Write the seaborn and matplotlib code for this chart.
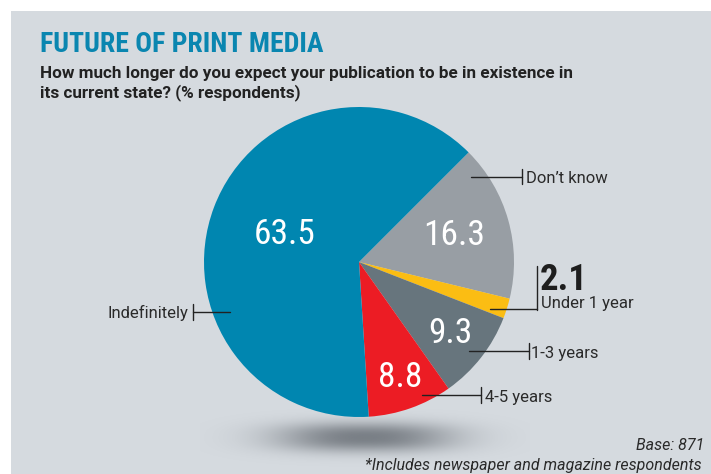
import numpy as np
import matplotlib
matplotlib.use("Agg")
import matplotlib.pyplot as plt
import seaborn as sns
from matplotlib.lines import Line2D
from matplotlib.patches import Rectangle

# ---- data ----
categories = ["Don't know", "Under 1 year", "1-3 years", "4-5 years", "Indefinitely"]
values = [16.3, 2.1, 9.3, 8.8, 63.5]
value_labels = ["16.3", "2.1", "9.3", "8.8", "63.5"]
colors = ["#989ea4", "#fbbd13", "#67757d", "#ec1c24", "#0086b0"]

title = "FUTURE OF PRINT MEDIA"
subtitle_lines = ["How much longer do you expect your publication to be in existence in",
                  "its current state? (% respondents)"]
footer1 = "Base: 871"
footer2 = "*Includes newspaper and magazine respondents"

sns.set_style("white")
COND = ["Roboto Condensed", "Roboto", "DejaVu Sans"]
REG = ["Roboto", "DejaVu Sans"]
plt.rcParams["font.family"] = REG

W, H = 711, 474
fig = plt.figure(figsize=(W / 100, H / 100), dpi=100, facecolor="white")

def fx(px):
    return px / W

def fy(py):
    return 1 - py / H

BG = "#d5dadf"
fig.add_artist(Rectangle((fx(11), 0), 1 - fx(11), fy(11), transform=fig.transFigure,
                         facecolor=BG, edgecolor="none", zorder=0))

# shadow
cx, cy, R = 359, 262, 155
sax = fig.add_axes([fx(200), fy(480), fx(330), (480 - 390) / H], zorder=1)
sax.axis("off")
xx, yy = np.meshgrid(np.linspace(-1, 1, 300), np.linspace(-1, 1, 120))
d = (np.abs(xx) / 0.62) ** 2.4 + (np.abs(yy - 0.05) / 0.38) ** 2.4
alpha = 0.78 * np.exp(-d * 1.4)
img = np.zeros((120, 300, 4))
img[..., 0] = 0.38
img[..., 1] = 0.40
img[..., 2] = 0.43
img[..., 3] = alpha
sax.imshow(img, extent=[-1, 1, -1, 1], aspect="auto", interpolation="bilinear")
sax.set_xlim(-1, 1)
sax.set_ylim(-1, 1)

# pie
ax = fig.add_axes([fx(cx - R), fy(cy + R), fx(2 * R), 2 * R / H], zorder=2)
wedges, _ = ax.pie(values, colors=colors, startangle=45, counterclock=False,
                   radius=1, wedgeprops=dict(linewidth=0))
ax.set_xlim(-1, 1)
ax.set_ylim(-1, 1)
ax.set_aspect("equal")
ax.axis("off")

# value labels inside slices
label_r = [0.64, None, 0.75, 0.79, 0.51]
for w, lab, r in zip(wedges, value_labels, label_r):
    if r is None:
        continue
    mid = np.deg2rad((w.theta1 + w.theta2) / 2)
    ax.text(r * np.cos(mid), r * np.sin(mid), lab, color="white", fontsize=25.5,
            ha="center", va="center", family=COND)

# title & subtitle
fig.text(fx(40), fy(52), title, color="#0a86b0", fontsize=20, fontweight="bold",
         ha="left", va="baseline", family=COND)
fig.text(fx(40), fy(78), subtitle_lines[0], color="#222222", fontsize=12.3, fontweight="bold",
         ha="left", va="baseline")
fig.text(fx(40), fy(97), subtitle_lines[1], color="#222222", fontsize=12.3, fontweight="bold",
         ha="left", va="baseline")

# leader lines
def leader(x0, x1, y, t0, t1, tx):
    fig.add_artist(Line2D([fx(x0), fx(x1)], [fy(y), fy(y)], color="#222222", lw=1, zorder=5))
    fig.add_artist(Line2D([fx(tx), fx(tx)], [fy(t0), fy(t1)], color="#222222", lw=1, zorder=5))

leader(471, 522, 176.5, 169, 184, 522)
leader(490, 537, 309, 266, 310, 537)
leader(469, 529, 351, 343, 359, 529)
leader(422, 481, 395, 387, 403, 481)
leader(193, 230, 312, 304, 320, 193)

TXT = "#2a2a2a"
LFS = 12
fig.text(fx(526), fy(183), "Don\u2019t know", color=TXT, fontsize=LFS, ha="left", va="baseline")
fig.text(fx(540), fy(290), value_labels[1], color="#1e1e1e", fontsize=26.5, fontweight="bold",
         ha="left", va="baseline", family=COND)
fig.text(fx(541), fy(308), "Under 1 year", color=TXT, fontsize=LFS, ha="left", va="baseline")
fig.text(fx(531), fy(358), "1-3 years", color=TXT, fontsize=LFS, ha="left", va="baseline")
fig.text(fx(485), fy(402), "4-5 years", color=TXT, fontsize=LFS, ha="left", va="baseline")
fig.text(fx(188), fy(318), "Indefinitely", color=TXT, fontsize=LFS, ha="right", va="baseline")

fig.text(fx(704), fy(450), footer1, color=TXT, fontsize=11.5, style="italic",
         ha="right", va="baseline")
fig.text(fx(702), fy(470), footer2, color=TXT, fontsize=11.5, style="italic",
         ha="right", va="baseline")

fig.savefig("out.png", dpi=100, facecolor="white")
